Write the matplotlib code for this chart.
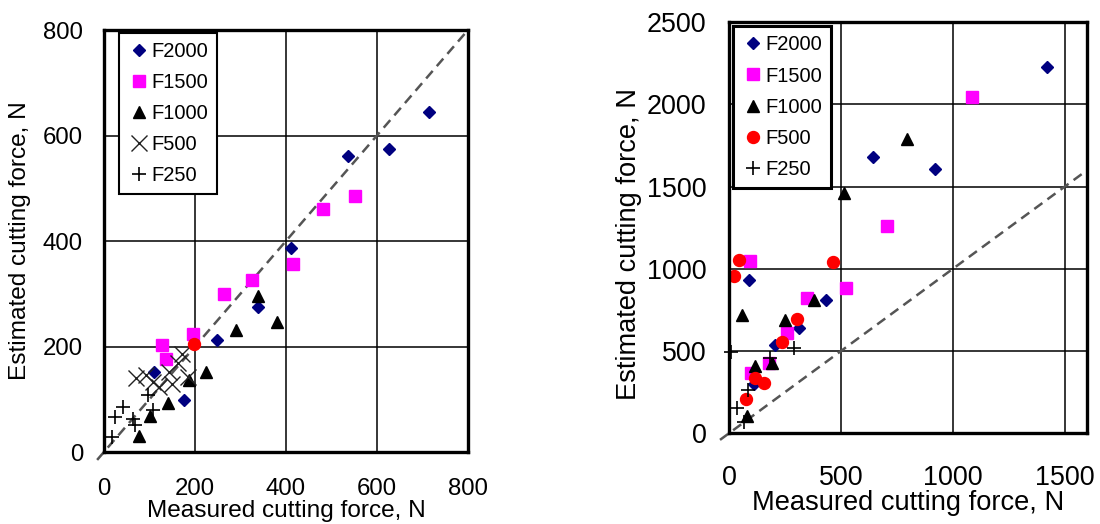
import numpy as np
import matplotlib
matplotlib.use("Agg")
import matplotlib.pyplot as plt

plt.rcParams['font.family'] = ['Liberation Sans', 'DejaVu Sans']

# ---- left chart data (N) ----
l_f2000_x = [714, 626, 536, 412, 339, 249, 177, 111]
l_f2000_y = [645, 574, 561, 386, 275, 212, 98, 152]
l_f1500_x = [551, 481, 415, 325, 264, 196, 127, 136]
l_f1500_y = [486, 460, 357, 327, 300, 224, 202, 176]
l_f1000_x = [339, 380, 290, 224, 186, 141, 101, 77]
l_f1000_y = [296, 246, 232, 152, 136, 92, 68, 30]
l_f500_x = [71, 93, 108, 122, 144, 162, 172, 184, 150]
l_f500_y = [140, 146, 133, 124, 152, 168, 185, 143, 128]
l_f250_x = [97, 42, 24, 64, 108, 68, 17]
l_f250_y = [108, 86, 67, 63, 79, 51, 29]
l_red_x = [199]
l_red_y = [204]
l_ticks = [0, 200, 400, 600, 800]

# ---- right chart data (N) ----
r_f2000_x = [1420, 644, 919, 89, 434, 315, 205, 110]
r_f2000_y = [2226, 1680, 1605, 932, 809, 640, 540, 297]
r_f1500_x = [1085, 707, 96, 521, 348, 258, 177, 99]
r_f1500_y = [2043, 1259, 1045, 886, 824, 611, 430, 369]
r_f1000_x = [797, 515, 60, 378, 251, 192, 117, 80]
r_f1000_y = [1792, 1464, 717, 809, 691, 430, 410, 106]
r_f500_x = [44, 21, 465, 306, 237, 117, 155, 75]
r_f500_y = [1052, 959, 1041, 697, 553, 338, 303, 209]
r_f250_x = [9, 290, 185, 84, 35, 65]
r_f250_y = [496, 517, 455, 266, 154, 71]
r_xticks = [0, 500, 1000, 1500]
r_yticks = [0, 500, 1000, 1500, 2000, 2500]

navy = '#000080'
pink = '#ff00ff'

fig = plt.figure(figsize=(11, 5.24), dpi=100)
ax1 = fig.add_axes([0.0945, 0.1374, 0.3309, 0.8053])
ax2 = fig.add_axes([0.6627, 0.1731, 0.3255, 0.7844])


def style_axes(ax, xt, yt, xmax, ymax, fs, xpad, ypad):
    ax.set_xlim(0, xmax)
    ax.set_ylim(0, ymax)
    ax.set_xticks(xt)
    ax.set_yticks(yt)
    ax.tick_params(length=0, labelsize=fs)
    ax.tick_params(axis='x', pad=xpad)
    ax.tick_params(axis='y', pad=ypad)
    for v in xt[1:]:
        ax.axvline(v, color='black', lw=1.1, zorder=1)
    for v in yt[1:]:
        ax.axhline(v, color='black', lw=1.1, zorder=1)
    for s in ax.spines.values():
        s.set_linewidth(2.4)
        s.set_zorder(5)


def add_legend(ax, anchor, frame_lw):
    leg = ax.legend(loc='upper left', bbox_to_anchor=anchor, fontsize=14.5,
                    frameon=True, fancybox=False, edgecolor='black', framealpha=1,
                    handlelength=1.1, handletextpad=0.05, labelspacing=0.6,
                    borderpad=0.45, borderaxespad=0)
    leg.get_frame().set_linewidth(frame_lw)
    leg.set_zorder(6)
    return leg


# left chart
style_axes(ax1, l_ticks, l_ticks, 800, 800, 17.3, 19, 15)
ax1.plot([-15, 800], [-15, 800], color='#555555', lw=1.8, dashes=(4, 2.5),
         clip_on=False, zorder=2)
ax1.plot(l_f2000_x, l_f2000_y, 'D', color=navy, ms=5.8, ls='none', label='F2000', zorder=4)
ax1.plot(l_f1500_x, l_f1500_y, 's', color=pink, ms=8.4, ls='none', label='F1500', zorder=4)
ax1.plot(l_f1000_x, l_f1000_y, '^', color='black', ms=8.4, ls='none', label='F1000', zorder=4)
ax1.plot(l_f500_x, l_f500_y, 'x', color='#222222', ms=12, mew=1.0, ls='none', label='F500', zorder=4)
ax1.plot(l_f250_x, l_f250_y, '+', color='black', ms=9.5, mew=1.2, ls='none', label='F250', zorder=4)
ax1.plot(l_red_x, l_red_y, 'o', color='red', ms=8.6, ls='none', zorder=4)
ax1.set_xlabel('Measured cutting force, N', fontsize=17.6)
ax1.xaxis.label.set_va('baseline')
ax1.xaxis.set_label_coords(0.5, -0.153)
ax1.set_ylabel('Estimated cutting force, N', fontsize=17.6, va='center')
ax1.yaxis.set_label_coords(-0.231, 0.502)
add_legend(ax1, (0.041, 0.993), 1.5)

# right chart
style_axes(ax2, r_xticks, r_yticks, 1600, 2500, 19.4, 23, 16)
ax2.plot([-40, 1605], [-40, 1605], color='#555555', lw=1.8, dashes=(4, 2.5),
         clip_on=False, zorder=2)
ax2.plot(r_f2000_x, r_f2000_y, 'D', color=navy, ms=5.8, ls='none', label='F2000', zorder=4)
ax2.plot(r_f1500_x, r_f1500_y, 's', color=pink, ms=8.4, ls='none', label='F1500', zorder=4)
ax2.plot(r_f1000_x, r_f1000_y, '^', color='black', ms=8.4, ls='none', label='F1000', zorder=4)
ax2.plot(r_f500_x, r_f500_y, 'o', color='red', ms=8.6, ls='none', label='F500', zorder=4)
ax2.plot(r_f250_x, r_f250_y, '+', color='black', ms=9.5, mew=1.2, ls='none', label='F250',
         zorder=4, clip_on=False)
ax2.set_xlabel('Measured cutting force, N', fontsize=19.6)
ax2.xaxis.label.set_va('baseline')
ax2.xaxis.set_label_coords(0.5, -0.186)
ax2.set_ylabel('Estimated cutting force, N', fontsize=19.6, va='center')
ax2.yaxis.set_label_coords(-0.279, 0.46)
add_legend(ax2, (0.011, 0.99), 2.2)

fig.savefig('out.png', dpi=100)
